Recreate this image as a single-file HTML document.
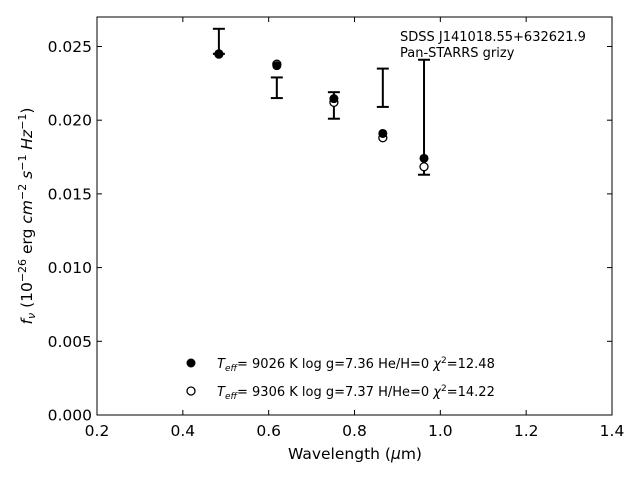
<!DOCTYPE html>
<html><head><meta charset="utf-8"><style>
body{margin:0;background:#fff;}
svg{display:block;font-family:"DejaVu Sans","Liberation Sans",sans-serif;}
</style></head><body>
<svg id="c" width="640" height="480" xmlns="http://www.w3.org/2000/svg">
<rect x="97" y="17" width="515" height="398" fill="none" stroke="#000" stroke-width="1"/>
<g id="ticks"></g>
<g id="marks"></g>
<text x="400" y="41" font-size="13">SDSS J141018.55+632621.9</text>
<text x="400" y="57" font-size="13">Pan-STARRS grizy</text>
<text x="355" y="459" font-size="15.5" text-anchor="middle">Wavelength (<tspan font-style="italic">μ</tspan>m)</text>
<text transform="translate(32,216) rotate(-90)" font-size="15.5" text-anchor="middle"><tspan font-style="italic">f<tspan font-size="11" dy="3">ν</tspan></tspan><tspan dy="-3"> (10</tspan><tspan font-size="11" dy="-6">−26</tspan><tspan dy="6"> erg </tspan><tspan font-style="italic">cm</tspan><tspan font-size="11" dy="-6">−2</tspan><tspan dy="6"> </tspan><tspan font-style="italic">s</tspan><tspan font-size="11" dy="-6">−1</tspan><tspan dy="6"> </tspan><tspan font-style="italic">Hz</tspan><tspan font-size="11" dy="-6">−1</tspan><tspan dy="6">)</tspan></text>
<g>
<circle cx="191" cy="363" r="4.5" fill="#000"/>
<text x="217" y="368" font-size="13"><tspan font-style="italic">T</tspan><tspan font-style="italic" font-size="9" dy="3">eff</tspan><tspan dy="-3">=  9026 K  log g=7.36  He/H=0  </tspan><tspan font-style="italic">χ</tspan><tspan font-size="9" dy="-5">2</tspan><tspan dy="5">=12.48</tspan></text>
<circle cx="191" cy="391" r="4" fill="#fff" stroke="#000" stroke-width="1.3"/>
<text x="217" y="396" font-size="13"><tspan font-style="italic">T</tspan><tspan font-style="italic" font-size="9" dy="3">eff</tspan><tspan dy="-3">=  9306 K  log g=7.37  H/He=0  </tspan><tspan font-style="italic">χ</tspan><tspan font-size="9" dy="-5">2</tspan><tspan dy="5">=14.22</tspan></text>
</g>
</svg>
<script>
const wavelengths=[0.484,0.619,0.752,0.866,0.962];
const obsFlux=[0.02535,0.0222,0.0210,0.0222,0.0202];
const obsErr=[0.00085,0.0007,0.0009,0.0013,0.0039];
const modelHeH=[0.02447,0.0237,0.02146,0.0191,0.01741];
const modelHHe=[0.0245,0.0238,0.02121,0.01881,0.01684];
const xTicks=[0.2,0.4,0.6,0.8,1.0,1.2,1.4];
const xTickLabels=["0.2","0.4","0.6","0.8","1.0","1.2","1.4"];
const yTicks=[0,0.005,0.010,0.015,0.020,0.025];
const yTickLabels=["0.000","0.005","0.010","0.015","0.020","0.025"];

const X0=97,X1=612,Y0=415,Y1=17,xmin=0.2,xmax=1.4,ymin=0,ymax=0.027;
const sx=v=>X0+(v-xmin)/(xmax-xmin)*(X1-X0);
const sy=v=>Y0-(v-ymin)/(ymax-ymin)*(Y0-Y1);
const NS="http://www.w3.org/2000/svg";
function mk(tag,attrs,parent){const e=document.createElementNS(NS,tag);for(const k in attrs)e.setAttribute(k,attrs[k]);parent.appendChild(e);return e;}
const tg=document.getElementById('ticks'),mg=document.getElementById('marks');
xTicks.forEach((t,i)=>{const x=sx(t);
 let l=mk('line',{x1:x,x2:x,y1:Y0,y2:Y0-5,stroke:'#000'},tg);
 
 
 let l2=mk('line',{x1:x,x2:x,y1:Y1,y2:Y1+5,stroke:'#000'},tg);
 
 
 let tx=mk('text',{x:x,y:Y0+21,'font-size':'15.5','text-anchor':'middle'},tg);tx.textContent=xTickLabels[i];
 
 
});
yTicks.forEach((t,i)=>{const y=sy(t);
 let l=mk('line',{x1:X0,x2:X0+5,y1:y,y2:y,stroke:'#000'},tg);
 
 
 let l2=mk('line',{x1:X1,x2:X1-5,y1:y,y2:y,stroke:'#000'},tg);
 
 
 let tx=mk('text',{x:X0-5,y:y+5.5,'font-size':'15.5','text-anchor':'end'},tg);tx.textContent=yTickLabels[i];
 
 
});
wavelengths.forEach((w,i)=>{const x=sx(w);
 const top=sy(obsFlux[i]+obsErr[i]),bot=sy(obsFlux[i]-obsErr[i]);
 const g=mk('g',{stroke:'#000','stroke-width':2},mg);
 
 
 mk('line',{x1:x,x2:x,y1:top,y2:bot},g);
 mk('line',{x1:x-6,x2:x+6,y1:top,y2:top},g);
 mk('line',{x1:x-6,x2:x+6,y1:bot,y2:bot},g);
 const o=mk('circle',{cx:x,cy:sy(modelHHe[i]),r:4,fill:'#fff',stroke:'#000','stroke-width':1.3},mg);
 
 
 const f=mk('circle',{cx:x,cy:sy(modelHeH[i]),r:4.5,fill:'#000'},mg);
 
 
});
</script>
</body></html>
